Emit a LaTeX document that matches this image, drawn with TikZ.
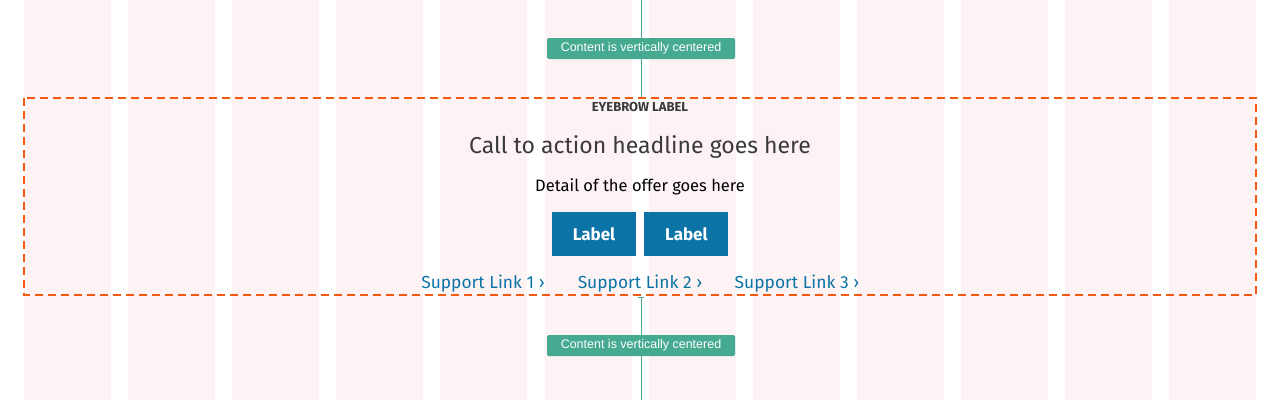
\documentclass[tikz,border=0pt]{standalone}
\usepackage{fontspec}
\setmainfont{Fira Sans}
\newfontfamily\badgefont{Liberation Sans}
\usetikzlibrary{positioning}
\definecolor{colpink}{HTML}{FEF3F4}
\definecolor{dashorange}{HTML}{F25A12}
\definecolor{badgeteal}{HTML}{45AA90}
\definecolor{linkblue}{HTML}{0C73A6}
\definecolor{headgray}{HTML}{3A3A3A}
\tikzset{
    x=1pt,y=-1pt,
    column/.style={fill=colpink,draw=none},
    badge/.style={fill=badgeteal,rounded corners=1.5pt,text=white,minimum width=188pt,minimum height=21pt,inner sep=0pt,font=\badgefont\fontsize{12.5}{14}\selectfont},
    btn/.style={fill=linkblue,text=white,minimum width=84pt,minimum height=44pt,inner sep=0pt,font=\bfseries\fontsize{17}{20}\selectfont},
    slink/.style={text=linkblue,inner sep=0pt,font=\fontsize{17.4}{20}\selectfont},
    guide/.style={draw=badgeteal,line width=1pt}
}
\begin{document}
\begin{tikzpicture}
    \useasboundingbox (0,0) rectangle (1280,400);
    % grid columns
    \foreach \i in {0,...,11}
        \fill[column] ({24+\i*104.1},0) rectangle ++(87,400);
    % vertical guides
    \coordinate (topend) at (641,0);
    \coordinate (botend) at (641,400);
    \coordinate (boxtop) at (641,98);
    \coordinate (boxbot) at (641,297);
    \draw[guide] (topend) -- (boxtop);
    \draw[guide] (boxbot) -- (botend);
    \draw[guide] ([xshift=-3pt]boxbot) -- ([xshift=3pt]boxbot);
    \draw[guide] ([xshift=-3pt,yshift=-2pt]botend) -- ([xshift=3pt,yshift=-2pt]botend);
    \node[badge] (badgetop) at (641,48.5) {Content is vertically centered};
    \node[badge] (badgebot) at (641,345.5) {Content is vertically centered};
    % content block
    \draw[dashorange,line width=2pt,dash pattern=on 8pt off 5pt] (24,98) rectangle (1256,295);
    \node[text=headgray,font=\bfseries\fontsize{13}{15}\selectfont,inner sep=0pt] (eyebrow) at (640,107) {EYEBROW LABEL};
    \node[text=headgray,font=\fontsize{23}{27}\selectfont,inner sep=0pt] (headline) at (640,147) {Call to action headline goes here};
    \node[font=\fontsize{16.5}{19}\selectfont,inner sep=0pt] (detail) at (640,187) {Detail of the offer goes here};
    \node[btn] (btnleft) at (594,234) {Label};
    \node[btn] (btnright) [right=8pt of btnleft] {Label};
    \node[slink] (linkone) at (483,284) {Support Link 1 ›};
    \node[slink] (linktwo) at (640,284) {Support Link 2 ›};
    \node[slink] (linkthree) at (797,284) {Support Link 3 ›};
\end{tikzpicture}
\end{document}
